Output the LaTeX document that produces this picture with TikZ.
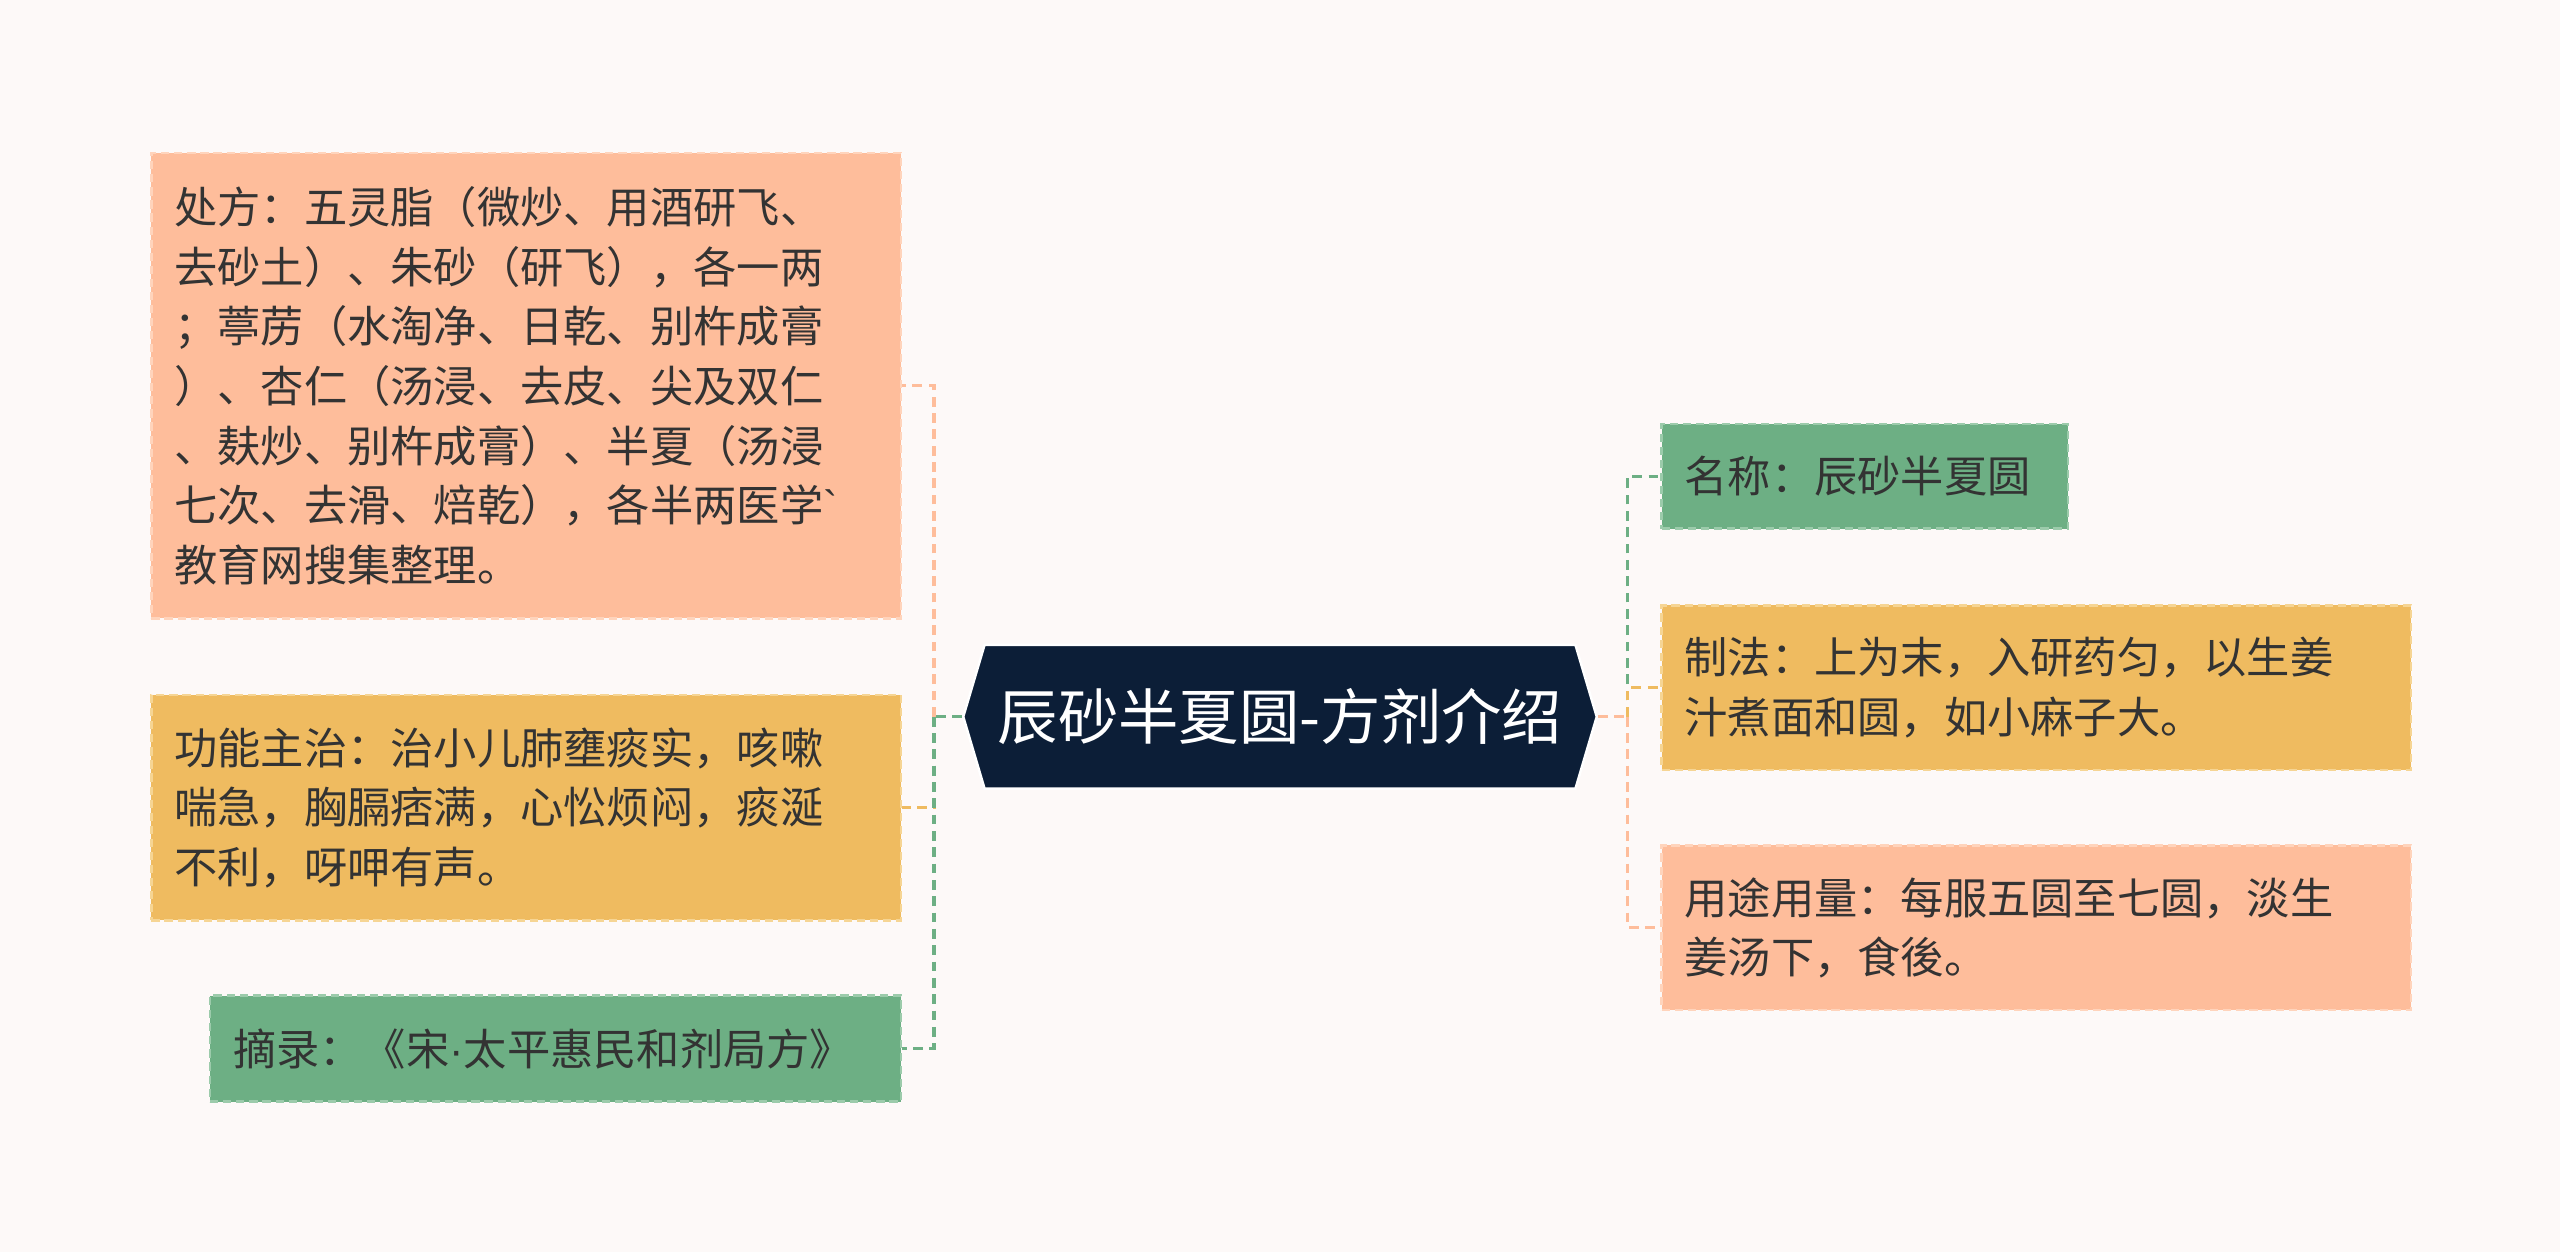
\documentclass[tikz,border=0pt]{standalone}
\usepackage{fontspec}
\setmainfont{Noto Sans CJK SC}
\newfontfamily\latinf{Liberation Sans}
\usetikzlibrary{shapes.symbols}
\definecolor{bg}{HTML}{FDF9F8}
\definecolor{salmon}{HTML}{FEBD9B}
\definecolor{salmonb}{HTML}{FFD4BC}
\definecolor{yel}{HTML}{EFBB60}
\definecolor{yelb}{HTML}{F6D594}
\definecolor{grn}{HTML}{6DAF84}
\definecolor{grnb}{HTML}{9CCBAB}
\definecolor{navy}{HTML}{0C1E37}
\definecolor{txt}{HTML}{333333}
\tikzset{
 box/.style={draw=#1b,fill=#1,dashed,dash pattern=on 5pt off 3pt,line width=1.5pt,
   anchor=north west,align=left,inner xsep=14pt,inner ysep=0pt,text=txt,
   font=\fontsize{26.5}{36.5}\selectfont},
 conn/.style={draw=#1,dashed,dash pattern=on 6pt off 4pt,line width=2pt},
}
\begin{document}
\begin{tikzpicture}[x=1pt,y=-1pt]
\fill[bg] (0,0) rectangle (1568,767);
\useasboundingbox (0,0) rectangle (1568,767);
\node[box=salmon,text width=431pt,minimum height=285pt] (b1) at (92,93) {处方：五灵脂（微炒、用酒研飞、\\去砂土）、朱砂（研飞），各一两\\；葶苈（水淘净、日乾、别杵成膏\\）、杏仁（汤浸、去皮、尖及双仁\\、麸炒、别杵成膏）、半夏（汤浸\\七次、去滑、焙乾），各半两医学{\latinf\textasciigrave}\\教育网搜集整理。};
\node[box=yel,text width=431pt,minimum height=138pt] (b2) at (92,425) {功能主治：治小儿肺壅痰实，咳嗽\\喘急，胸膈痞满，心忪烦闷，痰涎\\不利，呀呷有声。};
\node[box=grn,text width=395pt,minimum height=65pt] (b3) at (128,609) {摘录：《宋{\latinf·}太平惠民和剂局方》};
\node[box=grn,text width=221pt,minimum height=64pt] (r1) at (1017,259) {名称：辰砂半夏圆};
\node[box=yel,text width=431pt,minimum height=101pt] (r2) at (1017,370) {制法：上为末，入研药匀，以生姜\\汁煮面和圆，如小麻子大。};
\node[box=salmon,text width=431pt,minimum height=101pt] (r3) at (1017,517) {用途用量：每服五圆至七圆，淡生\\姜汤下，食後。};
\node[signal,signal to=west and east,signal pointer angle=147,fill=navy,draw=white,line width=1.5pt,
  text=white,font=\fontsize{37}{42}\selectfont,minimum width=388pt,minimum height=88pt,inner xsep=0pt] (c) at (784,439) {辰砂半夏圆-方剂介绍};
\coordinate (lj) at (572,439);
\coordinate (rj) at (997,439);
\draw[conn=grn] (c.west) -- (lj);
\draw[conn=salmon] (lj) -- (lj|-b1.east) -- (b1.east);
\draw[conn=yel] (lj) -- (lj|-b2.east) -- (b2.east);
\draw[conn=grn] (lj) -- (lj|-b3.east) -- (b3.east);
\draw[conn=salmon] (c.east) -- (rj);
\draw[conn=grn] (rj) -- (rj|-r1.west) -- (r1.west);
\draw[conn=yel] (rj) -- (rj|-r2.west) -- (r2.west);
\draw[conn=salmon] (rj) -- (rj|-r3.west) -- (r3.west);
\end{tikzpicture}
\end{document}
